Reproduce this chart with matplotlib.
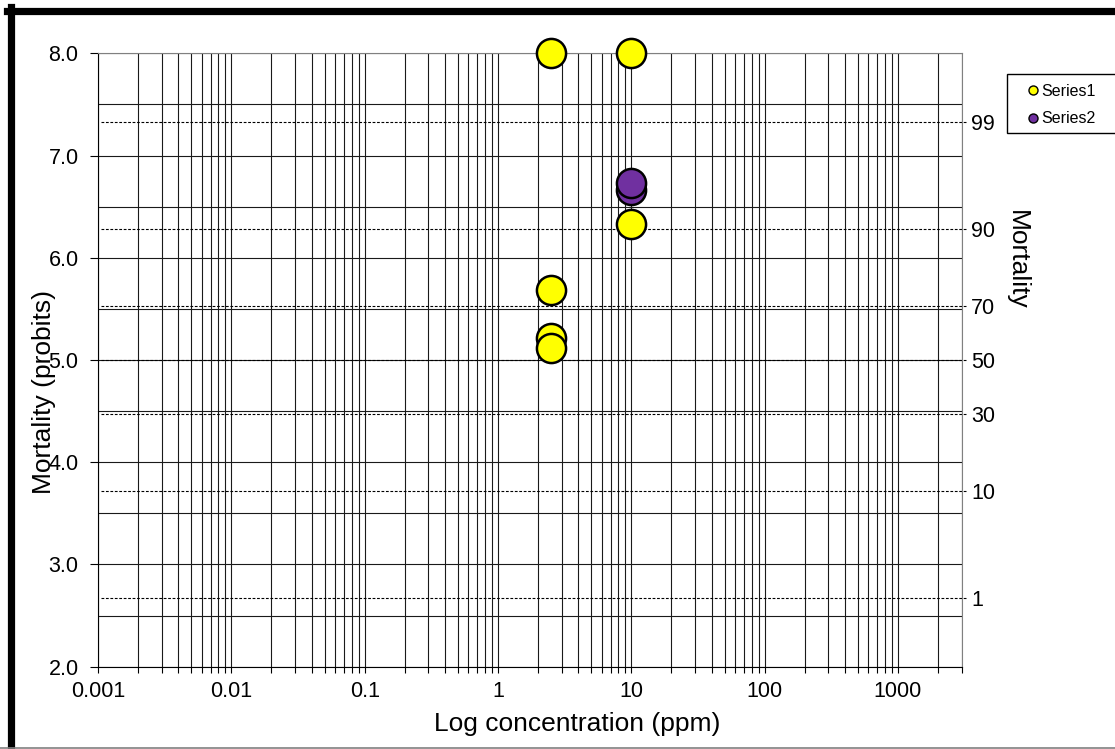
import matplotlib
matplotlib.use("Agg")
import matplotlib.pyplot as plt
from matplotlib.lines import Line2D
from matplotlib.patches import Rectangle
from matplotlib.ticker import LogLocator, NullFormatter
from statistics import NormalDist

plt.rcParams['font.family'] = ['Liberation Sans', 'DejaVu Sans']

# datos
s1_conc = [2.5, 10, 10, 2.5, 2.5, 2.5]
s1_probit = [8.0, 8.0, 6.33, 5.68, 5.22, 5.12]
s2_conc = [10, 10]
s2_probit = [6.66, 6.73]
pct_ticks = [1, 10, 30, 50, 70, 90, 99]
pct_probit = [NormalDist().inv_cdf(p / 100) + 5 for p in pct_ticks]
x_ticks = [0.001, 0.01, 0.1, 1, 10, 100, 1000]
x_labels = ['0.001', '0.01', '0.1', '1', '10', '100', '1000']
y_ticks = [2, 3, 4, 5, 6, 7, 8]
y_half = [2.5, 3.5, 4.5, 5.5, 6.5, 7.5]

W, H = 1115, 749
fig = plt.figure(figsize=(W / 100, H / 100), dpi=100)
ax = fig.add_axes([98 / W, 1 - 666.7 / H, 863.6 / W, 613.4 / H])

ax.set_xscale('log')
ax.set_xlim(0.001, 3000)
ax.set_ylim(2, 8)
ax.set_xticks(x_ticks)
ax.set_xticklabels(x_labels)
ax.xaxis.set_minor_locator(LogLocator(base=10, subs=range(2, 10), numticks=100))
ax.xaxis.set_minor_formatter(NullFormatter())
ax.set_yticks(y_ticks)
ax.set_yticklabels(['%.1f' % v for v in y_ticks])
ax.set_yticks(y_half, minor=True)

ax.grid(True, which='both', color='#1a1a1a', lw=0.8, zorder=0)
ax.set_axisbelow(True)
ax.tick_params(axis='x', which='both', direction='out', length=4, width=0.8,
               labelsize=15.5, pad=6)
ax.tick_params(axis='y', which='major', direction='out', length=6, width=0.8,
               labelsize=15.5, pad=8)
ax.tick_params(axis='y', which='minor', length=0)
for s in ['top', 'right']:
    ax.spines[s].set_color('#808080')
for s in ['left', 'bottom']:
    ax.spines[s].set_color('black')

# lineas de porcentaje
for p in pct_probit:
    ax.plot([0.00105, 3300], [p, p], color='black', lw=0.8,
            linestyle=(0, (2.5, 1.5)), clip_on=False, zorder=1)

ax2 = ax.twinx()
ax2.set_ylim(2, 8)
ax2.set_yticks(pct_probit)
ax2.set_yticklabels([str(p) for p in pct_ticks])
ax2.tick_params(axis='y', length=0, labelsize=15.5, pad=7)
for s in ax2.spines.values():
    s.set_visible(False)

ax.scatter(s1_conc, s1_probit, s=440, c='#FFFF00', edgecolors='black',
           linewidths=1.8, clip_on=False, zorder=5, label='Series1')
for x, y in zip(s2_conc, s2_probit):
    ax.scatter([x], [y], s=440, c='#7030A0', edgecolors='black',
               linewidths=1.8, clip_on=False, zorder=6)

fig.text(577 / W, 1 - 724 / H, 'Log concentration (ppm)', fontsize=19,
         ha='center', va='center')
fig.text(44 / W, 1 - 392 / H, 'Mortality (probits)', fontsize=19,
         ha='center', va='center', rotation=90)
fig.text(1017 / W, 1 - 260 / H, 'Mortality', fontsize=19,
         ha='center', va='center', rotation=-90)

# leyenda
fig.add_artist(Rectangle((1007 / W, 1 - 133 / H), 130 / W, 59 / H,
                         transform=fig.transFigure, facecolor='white',
                         edgecolor='black', lw=1.0))
h1 = Line2D([], [], marker='o', color='none', markerfacecolor='#FFFF00',
            markeredgecolor='black', markersize=6.5)
h2 = Line2D([], [], marker='o', color='none', markerfacecolor='#7030A0',
            markeredgecolor='black', markersize=6.5)
leg = fig.legend([h1, h2], ['Series1', 'Series2'], loc='upper left',
                 bbox_to_anchor=(1028 / W, 1 - 83.5 / H),
                 fontsize=11.5, frameon=False, handlelength=0.6,
                 handletextpad=0.2, borderpad=0, labelspacing=0.8,
                 borderaxespad=0)

# marco del grafico
fig.add_artist(Line2D([11 / W, 11 / W], [0, 1 - 7 / H], color='black',
                      lw=5.2, transform=fig.transFigure))
fig.add_artist(Line2D([7 / W, 1], [1 - 10.5 / H, 1 - 10.5 / H], color='black',
                      lw=5.2, transform=fig.transFigure))
fig.add_artist(Line2D([0, 1], [1.5 / H, 1.5 / H], color='#808080',
                      lw=1.2, transform=fig.transFigure))

fig.savefig('out.png', dpi=100)
